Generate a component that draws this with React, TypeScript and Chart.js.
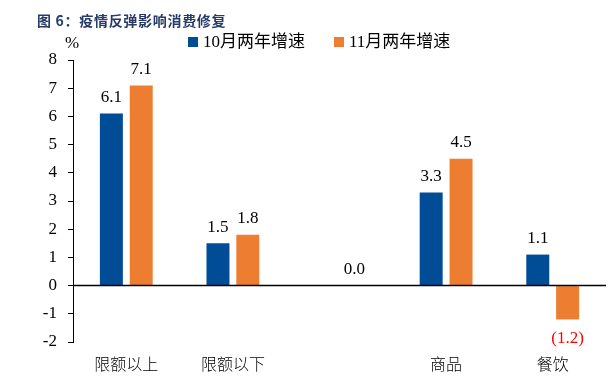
import React, { useEffect, useRef } from "react";
import { Chart, registerables } from "chart.js";
Chart.register(...registerables);

const categories = ["限额以上", "限额以下", "", "商品", "餐饮"];
const octValues: (number | null)[] = [6.1, 1.5, null, 3.3, 1.1];
const novValues: (number | null)[] = [7.1, 1.8, 0.0, 4.5, -1.2];
const seriesNames = ["10月两年增速", "11月两年增速"];
const seriesColors = ["#004C97", "#ED7D31"];
const titleText = "图 6：疫情反弹影响消费修复";
const unitText = "%";
const yMin = -2;
const yMax = 8;
const yStep = 1;

const SERIF = '"Liberation Serif", "Times New Roman", "Noto Sans CJK SC", serif';
const CJK = '"Noto Sans CJK SC", sans-serif';

const labelPlugin = {
  id: "valueLabels",
  afterDatasetsDraw(chart: any) {
    const ctx = chart.ctx;
    const yScale = chart.scales.y;
    const y0 = yScale.getPixelForValue(0);
    ctx.save();
    ctx.strokeStyle = "#000";
    ctx.lineWidth = 1.5;
    ctx.beginPath();
    ctx.moveTo(chart.chartArea.left, y0);
    ctx.lineTo(chart.chartArea.right, y0);
    ctx.stroke();
    ctx.font = "17px " + SERIF;
    ctx.textAlign = "center";
    ctx.textBaseline = "middle";
    chart.data.datasets.forEach((ds: any, di: number) => {
      const meta = chart.getDatasetMeta(di);
      meta.data.forEach((el: any, i: number) => {
        const v = ds.data[i];
        if (v === null || v === undefined) return;
        if (v >= 0) {
          ctx.fillStyle = "#000";
          ctx.fillText(v.toFixed(1), el.x, el.y - 16);
        } else {
          ctx.fillStyle = "#FF0000";
          ctx.fillText("(" + Math.abs(v).toFixed(1) + ")", el.x, el.y + 19);
        }
      });
    });
    ctx.restore();
  },
};

export default function App() {
  const ref = useRef<HTMLCanvasElement | null>(null);
  useEffect(() => {
    if (!ref.current) return;
    const chart = new Chart(ref.current, {
      type: "bar",
      data: {
        labels: categories,
        datasets: [
          { label: seriesNames[0], data: octValues, backgroundColor: seriesColors[0] },
          { label: seriesNames[1], data: novValues, backgroundColor: seriesColors[1] },
        ],
      },
      options: {
        animation: false,
        responsive: false,
        maintainAspectRatio: false,
        layout: { padding: { top: 60, right: 10, left: 0, bottom: 0 } },
        datasets: { bar: { barPercentage: 0.77, categoryPercentage: 0.56 } },
        plugins: { legend: { display: false }, tooltip: { enabled: false }, title: { display: false } },
        scales: {
          x: {
            type: "category",
            offset: true,
            grid: { display: false, drawTicks: false },
            border: { display: false },
            ticks: { color: "#000", font: { family: CJK, size: 16, weight: "300" }, padding: 12, maxRotation: 0, autoSkip: false },
            afterFit: (s: any) => { s.height = 38; },
          },
          y: {
            min: yMin,
            max: yMax,
            ticks: { stepSize: yStep, color: "#000", font: { family: SERIF, size: 17 }, padding: 11 },
            grid: { display: true, drawOnChartArea: false, drawTicks: true, tickLength: 5, tickColor: "#000", tickWidth: 1 },
            border: { display: true, color: "#000", width: 1 },
            afterFit: (s: any) => { s.width = 73; },
          },
        },
      } as any,
      plugins: [labelPlugin],
    });
    return () => chart.destroy();
  }, []);

  return (
    <div style={{ position: "absolute", left: 0, top: 0, width: 616, height: 380, background: "#fff" }}>
      <canvas ref={ref} width={616} height={380} style={{ position: "absolute", left: 0, top: 0, width: 616, height: 380 }} />
      <div style={{ position: "absolute", left: 37, top: 10, fontFamily: CJK, fontWeight: 700, fontSize: 14, letterSpacing: "0.7px", color: "#263B6A", whiteSpace: "nowrap", lineHeight: "20px" }}>{titleText}</div>
      <div style={{ position: "absolute", left: 65, top: 33, fontFamily: SERIF, fontSize: 17, color: "#000", lineHeight: "20px" }}>{unitText}</div>
      {seriesNames.map((name, i) => (
        <div key={name} style={{ position: "absolute", left: i === 0 ? 188 : 334, top: 32, height: 20, display: "flex", alignItems: "center", whiteSpace: "nowrap" }}>
          <span style={{ display: "inline-block", width: 10, height: 10, background: seriesColors[i], marginRight: 5 }} />
          <span style={{ fontFamily: SERIF, fontSize: 17, color: "#000", lineHeight: "20px" }}>{name}</span>
        </div>
      ))}
    </div>
  );
}
